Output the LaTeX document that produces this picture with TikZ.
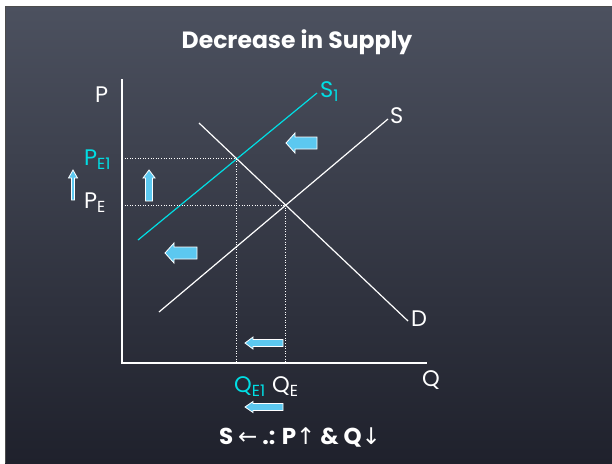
\documentclass[tikz,border=0pt]{standalone}
\usepackage{fontspec}
\setmainfont{Poppins}
\newfontfamily\arrowfont{DejaVu Sans}
\usetikzlibrary{intersections}
\definecolor{boardtop}{RGB}{76,81,95}
\definecolor{boardbot}{RGB}{31,33,44}
\definecolor{shiftcyan}{RGB}{0,222,228}
\definecolor{blockfill}{RGB}{92,200,240}
\newcommand{\sub}[1]{\raisebox{-4.5pt}{\fontsize{16}{16}\selectfont #1}}
% block arrows: tip, length, head length, head half-width, shaft half-width
\newcommand{\leftblock}[5]{%
  \draw[block] #1 -- ++(#3,-#4) -- ++(0,{#4-#5}) -- ++({#2-#3},0) -- ++(0,{2*#5})
    -- ++({#3-#2},0) -- ++(0,{#4-#5}) -- cycle;}
\newcommand{\upblock}[5]{%
  \draw[block] #1 -- ++(#4,#3) -- ++({#5-#4},0) -- ++(0,{#2-#3}) -- ++({-2*#5},0)
    -- ++(0,{#3-#2}) -- ++({#5-#4},0) -- cycle;}

\begin{document}
\begin{tikzpicture}[
  x=1pt,y=-1pt,
  curve/.style={white,line width=1.2pt},
  guide/.style={white!85,line width=0.8pt,dash pattern=on 1pt off 1.6pt},
  lbl/.style={white,inner sep=0pt,anchor=base west,font=\fontsize{22.5}{22.5}\selectfont},
  block/.style={fill=blockfill,draw=white,line width=0.8pt,line join=miter},
]
  \useasboundingbox (0,0) rectangle (612,463);
  \fill[white] (0,0) rectangle (612,463);
  \shade[top color=boardtop,bottom color=boardbot] (5,6) rectangle (612,463);
  \draw[black!70,line width=0.8pt] (5,463) -- (5,6) -- (612,6);

  % axes
  \coordinate (O) at (122,363);
  \coordinate (Ptop) at (122,79);
  \coordinate (Qend) at (427,363);
  \draw[white,line width=1.4pt] (Ptop) -- (O) -- (Qend);

  % supply, demand, shifted supply
  \coordinate (Sa) at (159,312);
  \coordinate (Sb) at (388,119);
  \coordinate (Da) at (199,123);
  \coordinate (Db) at (408,321);
  \coordinate (S1a) at (138,240);
  \coordinate (S1b) at (317,93);
  \draw[curve,name path=S] (Sa) -- (Sb);
  \draw[curve,name path=D] (Da) -- (Db);
  \draw[curve,shiftcyan,name path=S1] (S1a) -- (S1b);
  \path[name intersections={of=S and D,by=E}];
  \path[name intersections={of=S1 and D,by=E1}];

  % equilibrium guides
  \draw[guide] (O |- E) -- (E) -- (E |- O);
  \draw[guide] (O |- E1) -- (E1) -- (E1 |- O);

  % labels
  \node[lbl] (labP) at (95,102) {P};
  \node[lbl] (labQ) at (422,386) {Q};
  \node[lbl] (labS) at (390,123) {S};
  \node[lbl] (labD) at (411,326) {D};
  \node[lbl,shiftcyan] (labS1) at (320,97) {S\sub{1}};
  \node[lbl,shiftcyan] (labPE1) at (84,165) {P\sub{E1}};
  \node[lbl] (labPE) at (84,208) {P\sub{E}};
  \node[lbl,shiftcyan] (labQE1) at (234,392) {Q\sub{E1}};
  \node[lbl] (labQE) at (272,392) {Q\sub{E}};

  % shift arrows
  \leftblock{(286,143)}{31}{9}{10}{6}
  \leftblock{(165,253)}{32}{9}{10}{6}
  \leftblock{(245,343)}{38}{8}{6}{3.5}
  \leftblock{(245,407)}{38}{8}{5.5}{3.5}
  \upblock{(149,170)}{31}{8}{6}{3.5}
  \upblock{(73,170)}{30}{8}{4.5}{1.5}

  % title and summary
  \node[white,inner sep=0pt,anchor=base,font=\bfseries\fontsize{23.5}{23.5}\selectfont] (title) at (297,48) {Decrease in Supply};
  \node[white,inner sep=0pt,anchor=base,font=\bfseries\fontsize{23}{23}\selectfont] (summary) at (300,444)
    {S {\arrowfont\mdseries ←} .: P{\arrowfont\mdseries ↑} \& Q{\arrowfont\mdseries ↓}};
\end{tikzpicture}
\end{document}
